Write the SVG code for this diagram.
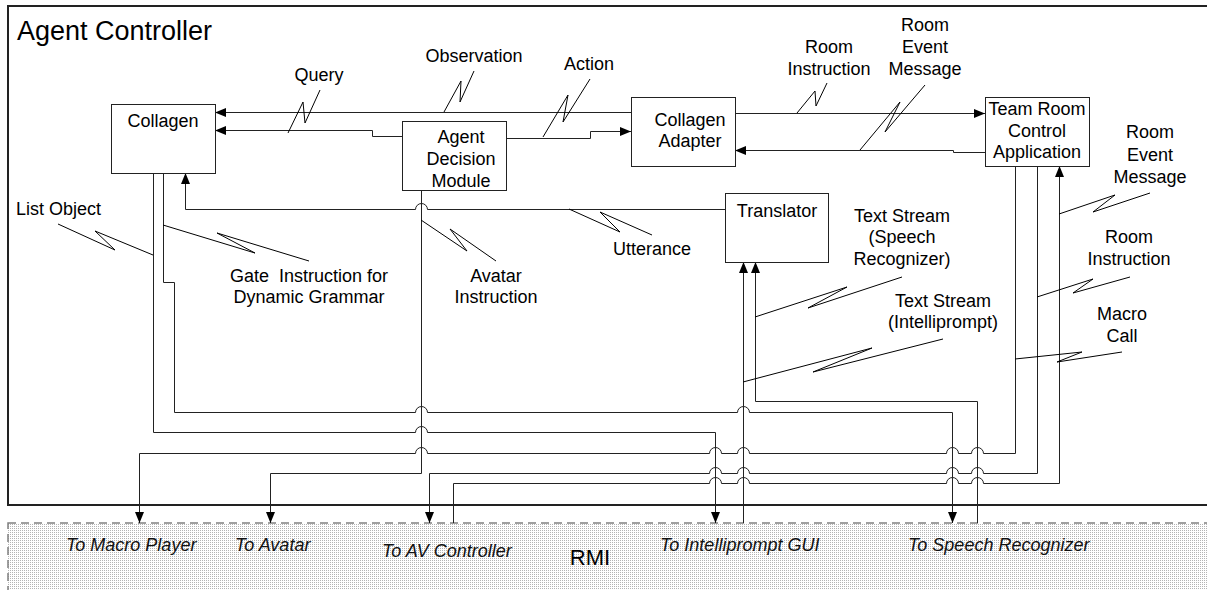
<svg xmlns="http://www.w3.org/2000/svg" width="1207" height="590" viewBox="0 0 1207 590">
<style>
.box{fill:#fff;stroke:#222;stroke-width:1}
.t{font-family:"Liberation Sans",Arial,sans-serif;font-size:18px;fill:#000;text-anchor:middle}
.ts{font-family:"Liberation Sans",Arial,sans-serif;font-size:18px;fill:#000}
.it{font-family:"Liberation Sans",Arial,sans-serif;font-size:18px;font-style:italic;fill:#111}
.c{fill:none;stroke:#222;stroke-width:1}
.arr{fill:none;stroke:#222;stroke-width:1;marker-end:url(#ah)}
.sq{fill:none;stroke:#000;stroke-width:1;stroke-linejoin:round}
</style>
<defs>
<marker id="ah" markerUnits="userSpaceOnUse" markerWidth="11" markerHeight="9" refX="11" refY="4.5" orient="auto">
<path d="M0,0 L11,4.5 L0,9 z" fill="#000"/>
</marker>
<pattern id="dots" width="2" height="2" patternUnits="userSpaceOnUse">
<rect width="2" height="2" fill="#fff"/>
<rect width="1" height="1" fill="#b4b4b4"/>
</pattern>
</defs>
<rect width="1207" height="590" fill="#fff"/>

<g id="agent-controller">
<path d="M1210 6 H8 V505 H1210" fill="none" stroke="#222" stroke-width="2"/>
<text x="17" y="40" font-family="Liberation Sans,Arial,sans-serif" font-size="27">Agent Controller</text>
</g>

<g id="rmi">
<rect x="8" y="523" width="1210" height="80" fill="url(#dots)" stroke="#808080" stroke-width="1.5" stroke-dasharray="8 5"/>
<text x="590" y="565" text-anchor="middle" font-family="Liberation Sans,Arial,sans-serif" font-size="22">RMI</text>
<text class="it" x="66" y="551">To Macro Player</text>
<text class="it" x="235" y="551">To Avatar</text>
<text class="it" x="382" y="557">To AV Controller</text>
<text class="it" x="660" y="551">To Intelliprompt GUI</text>
<text class="it" x="908" y="551">To Speech Recognizer</text>
</g>

<g id="connectors">
<path class="arr" d="M631 112.5 H215"/>
<path class="arr" d="M402 136.5 H372.5 V130.5 H215"/>
<path class="arr" d="M506 138.5 H590.5 V131.5 H631"/>
<path class="arr" d="M735 113.5 H985"/>
<path class="arr" d="M985 152.5 H953.5 V150.5 H735"/>
<path class="arr" d="M725 209.5 H427.5 A6 6 0 0 0 415.5 209.5 H185.5 V173"/>
<path class="arr" d="M421.5 190 V473.5 H270.5 V523"/>
<path class="arr" d="M163.5 173 V282.5 H174.5 V412.5 H415.5 A6 6 0 0 1 427.5 412.5 H737.5 A6 6 0 0 1 749.5 412.5 H952.5 V523"/>
<path class="arr" d="M153.5 173 V432.5 H415.5 A6 6 0 0 1 427.5 432.5 H715.5 V523"/>
<path class="arr" d="M1015.5 166 V453.5 H983.5 A6 6 0 0 0 971.5 453.5 H958.5 A6 6 0 0 0 946.5 453.5 H749.5 A6 6 0 0 0 737.5 453.5 H721.5 A6 6 0 0 0 709.5 453.5 H427.5 A6 6 0 0 0 415.5 453.5 H139.5 V523"/>
<path class="arr" d="M1037.5 166 V473.5 H983.5 A6 6 0 0 0 971.5 473.5 H958.5 A6 6 0 0 0 946.5 473.5 H749.5 A6 6 0 0 0 737.5 473.5 H721.5 A6 6 0 0 0 709.5 473.5 H429.5 V523"/>
<path class="arr" d="M453.5 523 V483.5 H709.5 A6 6 0 0 1 721.5 483.5 H737.5 A6 6 0 0 1 749.5 483.5 H946.5 A6 6 0 0 1 958.5 483.5 H971.5 A6 6 0 0 1 983.5 483.5 H1059.5 V166"/>
<path class="arr" d="M977.5 523 V401.5 H755.5 V262"/>
<path class="arr" d="M743.5 523 V262"/>
</g>

<g id="labels">
<path class="sq" d="M320 90 L305 123 L303 102 L288 133"/>
<text class="t" x="319" y="81">Query</text>
<path class="sq" d="M474 71 L460 102 L461 81 L444 112"/>
<text class="t" x="474" y="62">Observation</text>
<path class="sq" d="M590 79 L563 122 L568 95 L543 137"/>
<text class="t" x="589" y="70">Action</text>
<path class="sq" d="M827 83 L816 106 L815 91 L797 113"/>
<text class="t" x="829" y="53">Room</text>
<text class="t" x="829" y="75">Instruction</text>
<path class="sq" d="M925 85 L885 132 L900 102 L860 150"/>
<text class="t" x="925" y="31">Room</text>
<text class="t" x="925" y="53">Event</text>
<text class="t" x="925" y="75">Message</text>
<path class="sq" d="M58 224 L115 250 L95 231 L153 255"/>
<text class="ts" x="16" y="215">List Object</text>
<path class="sq" d="M163 225 L255 253 L217 233 L309 261"/>
<text class="t" x="309" y="282" xml:space="preserve">Gate  Instruction for</text>
<text class="t" x="309" y="303">Dynamic Grammar</text>
<path class="sq" d="M421 220 L467 251 L450 229 L496 261"/>
<text class="t" x="496" y="282">Avatar</text>
<text class="t" x="496" y="303">Instruction</text>
<path class="sq" d="M569 209 L620 232 L600 212 L652 235"/>
<text class="t" x="652" y="255">Utterance</text>
<path class="sq" d="M755 317 L847 287 L808 308 L902 277"/>
<text class="t" x="902" y="222">Text Stream</text>
<text class="t" x="902" y="243">(Speech</text>
<text class="t" x="902" y="265">Recognizer)</text>
<path class="sq" d="M743 382 L872 348 L813 372 L943 339"/>
<text class="t" x="943" y="307">Text Stream</text>
<text class="t" x="943" y="328">(Intelliprompt)</text>
<path class="sq" d="M1059 214 L1115 195 L1093 212 L1150 193"/>
<text class="t" x="1150" y="138">Room</text>
<text class="t" x="1150" y="161">Event</text>
<text class="t" x="1150" y="183">Message</text>
<path class="sq" d="M1037 297 L1093 279 L1073 293 L1130 277"/>
<text class="t" x="1129" y="243">Room</text>
<text class="t" x="1129" y="265">Instruction</text>
<path class="sq" d="M1015 359 L1082 352 L1057 362 L1122 352"/>
<text class="t" x="1122" y="320">Macro</text>
<text class="t" x="1122" y="342">Call</text>
</g>

<g id="collagen">
<rect class="box" x="111.5" y="104.5" width="104" height="69"/>
<text class="t" x="163" y="127">Collagen</text>
</g>
<g id="agent-decision-module">
<rect class="box" x="402.5" y="121.5" width="104" height="69"/>
<text class="t" x="461" y="143">Agent</text>
<text class="t" x="461" y="165">Decision</text>
<text class="t" x="461" y="187">Module</text>
</g>
<g id="collagen-adapter">
<rect class="box" x="631.5" y="97.5" width="104" height="69"/>
<text class="t" x="690" y="126">Collagen</text>
<text class="t" x="690" y="147">Adapter</text>
</g>
<g id="team-room-control-application">
<rect class="box" x="985.5" y="97.5" width="104" height="69"/>
<text class="t" x="1037" y="115">Team Room</text>
<text class="t" x="1037" y="137">Control</text>
<text class="t" x="1037" y="158">Application</text>
</g>
<g id="translator">
<rect class="box" x="725.5" y="193.5" width="103" height="69"/>
<text class="t" x="777" y="217">Translator</text>
</g>
</svg>
